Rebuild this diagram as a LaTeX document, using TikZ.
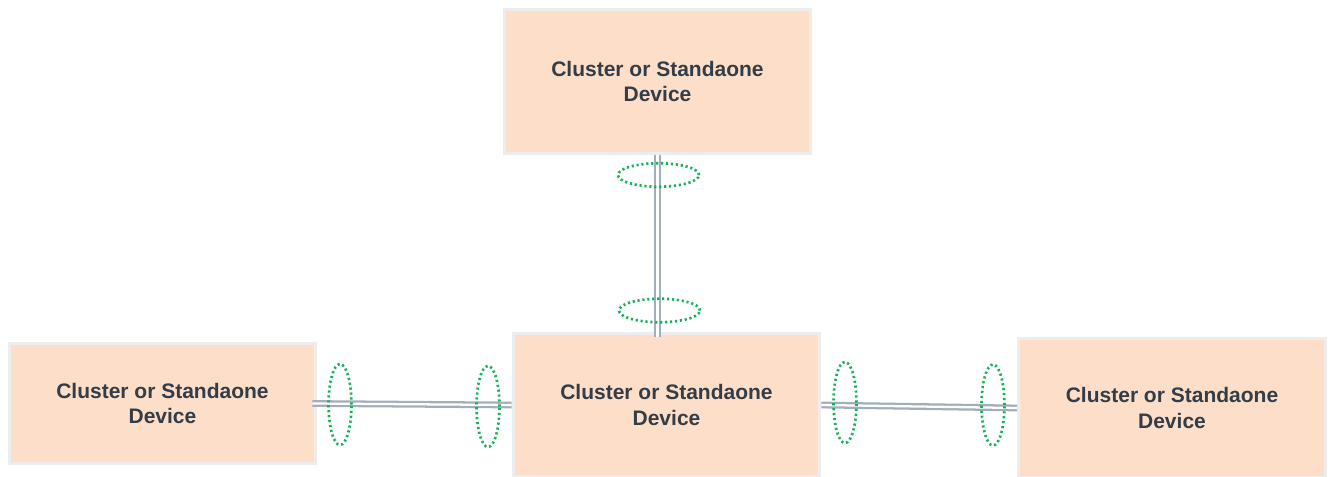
\documentclass[tikz,border=0pt]{standalone}
\usepackage{fontspec}
\setmainfont{Liberation Sans}
\usetikzlibrary{calc}
\definecolor{boxfill}{HTML}{FDDFC9}
\definecolor{boxline}{HTML}{EDEDED}
\definecolor{boxtext}{HTML}{333D47}
\definecolor{linkgray}{HTML}{A3AEBB}
\definecolor{ringgreen}{HTML}{14B257}

\begin{document}
\begin{tikzpicture}[x=0.75pt,y=-0.75pt,
  device/.style={draw=boxline,line width=2.2pt,fill=boxfill,text=boxtext,
    font=\fontsize{15.75}{18.9}\selectfont\bfseries,align=center,
    minimum width=230pt,inner sep=0pt},
  link/.style={draw=linkgray,double=white,double distance=1.7pt,line width=1.7pt},
  ring/.style={draw=ringgreen,line width=2pt,dash pattern=on 1.6pt off 2.1pt}]
  \useasboundingbox (0,0) rectangle (1328,477);
  \node[device,minimum height=108pt] (top) at (657.5,81.5) {Cluster or Standaone\\Device};
  \node[device,minimum height=90pt] (left) at (162.5,403.5) {Cluster or Standaone\\Device};
  \node[device,minimum height=107pt] (mid) at (666.5,405) {Cluster or Standaone\\Device};
  \node[device,minimum height=104pt] (right) at (1172,408) {Cluster or Standaone\\Device};
  % links between the devices
  \draw[link] (top.south) -- ($(top.south |- mid.north)+(0,5)$);
  \draw[link] ($(left.east)+(-5,0)$) -- (mid.west);
  \draw[link] (mid.east) -- (right.west);
  % dotted rings on the links
  \foreach \cx/\cy in {658.5/175,659.5/310.5}
    \draw[ring] (\cx,\cy) ellipse [x radius=30.4pt,y radius=8.8pt];
  \foreach \cx/\cy in {340/404.5,488/406.5,845/402.5,993/405}
    \draw[ring] (\cx,\cy) ellipse [x radius=8.6pt,y radius=30.4pt];
\end{tikzpicture}
\end{document}
